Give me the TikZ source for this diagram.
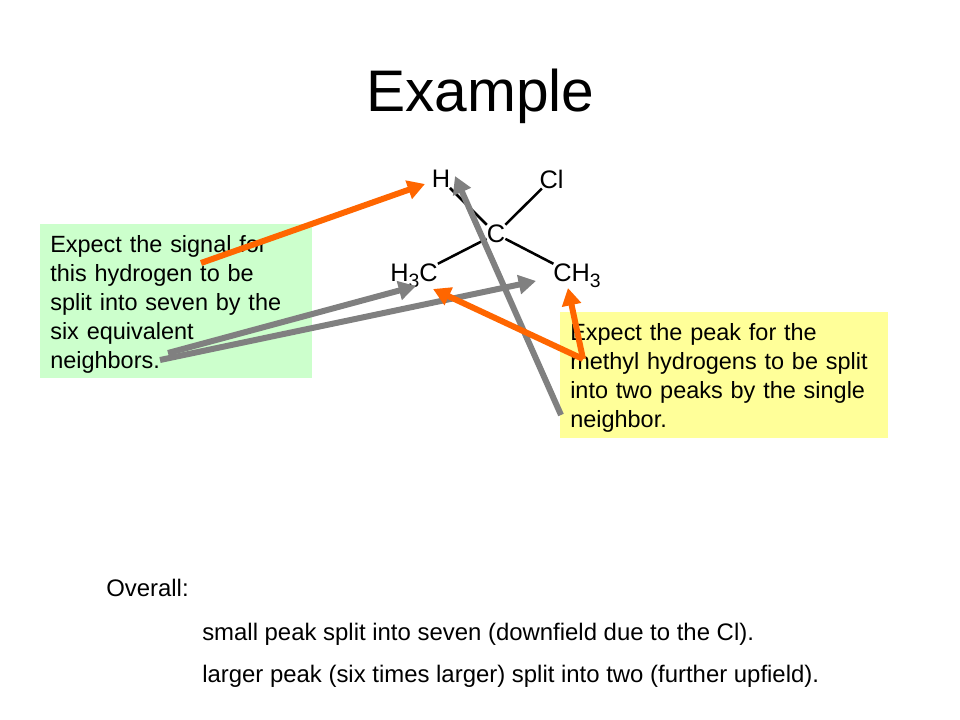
\documentclass[tikz,border=0pt]{standalone}
\usepackage{fontspec}
\setmainfont{Liberation Sans}
\usetikzlibrary{arrows.meta,positioning}

\newcommand{\threesub}{\raisebox{-0.45ex}{\fontsize{14.5}{15}\selectfont 3}}
\newcommand{\lowerfirst}{\rule{0pt}{17pt}}

\begin{document}
\begin{tikzpicture}[
    x=0.75pt, y=-0.75pt,
    title/.style={font=\fontsize{44}{50}\selectfont, inner sep=0pt},
    atom/.style={font=\fontsize{19}{20}\selectfont, inner sep=0pt},
    bond/.style={line width=1.9pt, black},
    note/.style={anchor=north west, align=left, inner xsep=7.5pt, inner ysep=0pt, font=\fontsize{17.6}{21.75}\selectfont},
    line/.style={anchor=base west, inner sep=0pt, font=\fontsize{17.94}{20}\selectfont},
    orangearrow/.style={-{Triangle[length=13pt,width=14pt]}, line width=4.5pt, color={rgb,255:red,255;green,102;blue,0}},
    grayarrow/.style={-{Triangle[length=13pt,width=14pt]}, line width=4.5pt, color={rgb,255:red,128;green,128;blue,128}}
]
    \useasboundingbox (0,0) rectangle (960,720);

    % Titel
    \node[title] (heading) at (480.5,96) {Example};

    % Molekuel
    \node[atom] (atomH) at (441,179) {H};
    \node[atom] (atomCl) at (551.5,179) {Cl};
    \node[atom] (atomC) at (496,234) {C};
    \node[atom] (atomLeft) at (414,276) {H\threesub C};
    \node[atom] (atomRight) at (577,276) {CH\threesub};

    \draw[bond] (atomH) -- (atomC);
    \draw[bond] (atomCl) -- (atomC);
    \draw[bond] (atomLeft) -- (atomC);
    \draw[bond] (atomRight) -- (atomC);

    % Kaesten
    \node[note, fill={rgb,255:red,204;green,255;blue,204}, text width=189pt, minimum height=115.5pt] (greenbox) at (40,224)
        {\lowerfirst Expect the signal for\\this hydrogen to be\\split into seven by the\\six equivalent\\neighbors.};
    \node[note, fill={rgb,255:red,255;green,255;blue,153}, text width=231pt, minimum height=94pt] (yellowbox) at (560,312)
        {\lowerfirst Expect the peak for the\\methyl hydrogens to be split\\into two peaks by the single\\neighbor.};

    % Endpunkte
    \coordinate (startH) at (201,263);
    \coordinate (endH) at (425,184);
    \coordinate (startA) at (168,353);
    \coordinate (endA) at (416,286);
    \coordinate (startB) at (160,360);
    \coordinate (endB) at (536,281);
    \coordinate (startC) at (561,415);
    \coordinate (endC) at (455,176);
    \coordinate (startD) at (583,359);
    \coordinate (endD) at (433,289);
    \coordinate (endE) at (568,288);

    % Pfeile
    \draw[grayarrow] (startA) -- (endA);
    \draw[grayarrow] (startB) -- (endB);
    \draw[grayarrow] (startC) -- (endC);
    \draw[orangearrow] (startH) -- (endH);
    \draw[orangearrow] (startD) -- (endD);
    \draw[orangearrow] (startD) -- (endE);

    % Zusammenfassung
    \node[line] (overall) at (106,596) {Overall:};
    \node[line] (smallpeak) at (202,640) {small peak split into seven (downfield due to the Cl).};
    \node[line] (largepeak) at (202,682) {larger peak (six times larger) split into two (further upfield).};
\end{tikzpicture}
\end{document}
